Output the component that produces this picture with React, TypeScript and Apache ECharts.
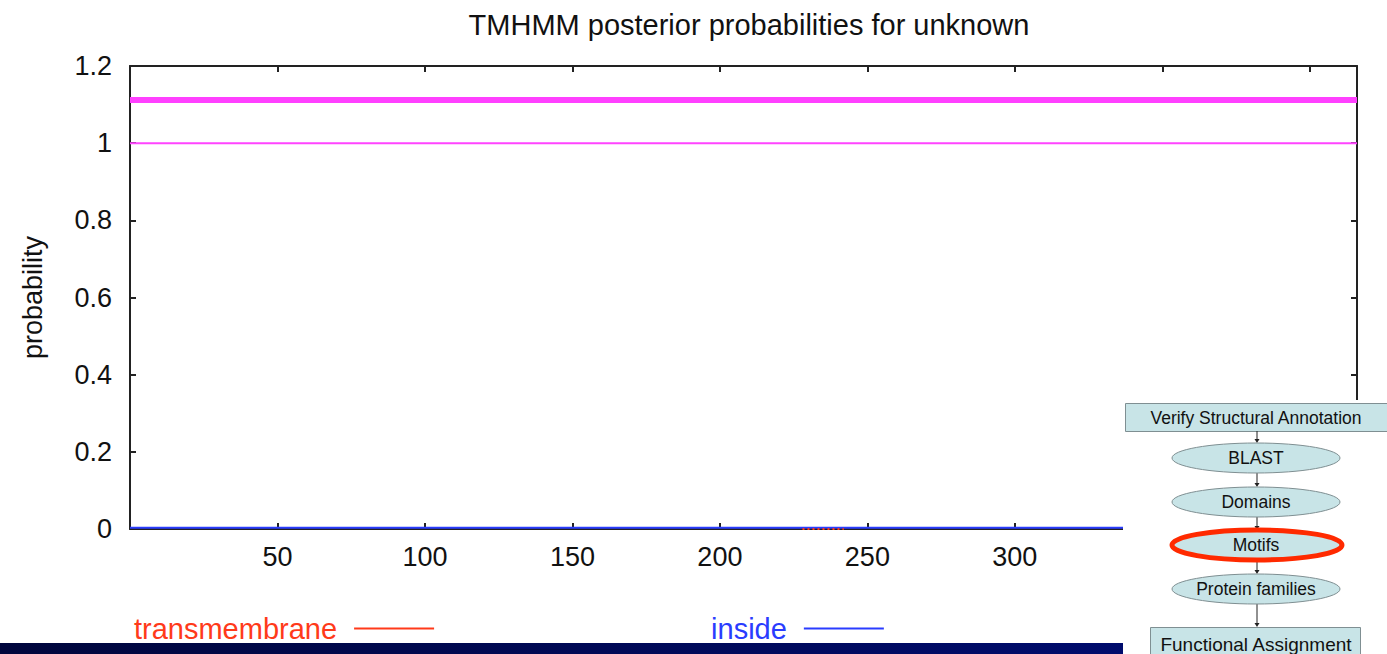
import React, { useEffect, useRef } from "react";
import * as echarts from "echarts";

const chartTitle = "TMHMM posterior probabilities for unknown";
const xTicks = [50, 100, 150, 200, 250, 300, 350, 400];
const yTicks = [0, 0.2, 0.4, 0.6, 0.8, 1, 1.2];
const residuePositions = [0, 50, 100, 150, 200, 228, 242, 250, 300, 350, 416];
const insideProb = [0.003, 0.003, 0.003, 0.003, 0.003, 0.003, 0.003, 0.003, 0.003, 0.003, 0.003];
const outsideProb = [1, 1, 1, 1, 1, 1, 1, 1, 1, 1, 1];
const tmPositions = [228, 231, 234, 237, 240, 242];
const tmProb = [0, 0, 0, 0, 0, 0];
const topologyStart = [0];
const topologyEnd = [416];
const topologyLevel = 1.112;
const flowSteps = ["BLAST", "Domains", "Motifs", "Protein families"];

const FONT = "'Liberation Sans', Arial, Helvetica, sans-serif";

export default function App() {
  const ref = useRef<HTMLDivElement>(null);
  useEffect(() => {
    if (!ref.current) return;
    const chart = echarts.init(ref.current, null, { renderer: "svg" });
    const pair = (xs: number[], ys: number[]) => xs.map((x, i) => [x, ys[i]]);
    const topo: number[][] = [];
    topologyStart.forEach((s, i) => {
      topo.push([s, topologyLevel], [topologyEnd[i], topologyLevel]);
    });

    const ellipseY = [458, 502, 545, 589];
    const graphics: any[] = [
      {
        type: "rect",
        shape: { x: 0, y: 643, width: 1387, height: 11 },
        style: {
          fill: new echarts.graphic.LinearGradient(0, 0, 1, 0, [
            { offset: 0, color: "#00063c" },
            { offset: 1, color: "#000d78" },
          ]),
        },
        z: 50,
      },
      {
        type: "rect",
        shape: { x: 1123, y: 400, width: 264, height: 254 },
        style: { fill: "#ffffff" },
        z: 60,
      },
      {
        type: "rect",
        shape: { x: 1125.5, y: 403.5, width: 262, height: 28 },
        style: { fill: "#c8e4e7", stroke: "#7f8f92", lineWidth: 1 },
        z: 61,
      },
      {
        type: "text",
        x: 1256,
        y: 418,
        style: {
          text: "Verify Structural Annotation",
          fill: "#111",
          font: `17.5px ${FONT}`,
          align: "center",
          verticalAlign: "middle",
        },
        z: 62,
      },
      {
        type: "rect",
        shape: { x: 1150.5, y: 627.5, width: 210, height: 40 },
        style: { fill: "#c8e4e7", stroke: "#7f8f92", lineWidth: 1 },
        z: 61,
      },
      {
        type: "text",
        x: 1256,
        y: 644,
        style: {
          text: "Functional Assignment",
          fill: "#111",
          font: `19px ${FONT}`,
          align: "center",
          verticalAlign: "middle",
        },
        z: 62,
      },
    ];
    const arrowSegs = [
      [431, 443],
      [473, 487],
      [517, 530],
      [560, 574],
      [604, 627],
    ];
    arrowSegs.forEach(([a, b]) => {
      graphics.push({
        type: "line",
        shape: { x1: 1257, y1: a, x2: 1257, y2: b - 2 },
        style: { stroke: "#222", lineWidth: 1 },
        z: 61,
      });
      graphics.push({
        type: "polygon",
        shape: { points: [[1254.5, b - 4], [1259.5, b - 4], [1257, b]] },
        style: { fill: "#222" },
        z: 61,
      });
    });
    flowSteps.forEach((label, i) => {
      const isMotif = label === "Motifs";
      graphics.push({
        type: "ellipse",
        shape: { cx: 1256, cy: ellipseY[i], rx: 84, ry: 15 },
        style: { fill: "#c8e4e7", stroke: "#7f8f92", lineWidth: 1 },
        z: 61,
      });
      if (isMotif) {
        graphics.push({
          type: "ellipse",
          shape: { cx: 1257, cy: ellipseY[i], rx: 85, ry: 15 },
          style: { fill: "none", stroke: "#ff2a00", lineWidth: 5 },
          z: 63,
        });
      }
      graphics.push({
        type: "text",
        x: 1256,
        y: ellipseY[i],
        style: {
          text: label,
          fill: "#111",
          font: `17.5px ${FONT}`,
          align: "center",
          verticalAlign: "middle",
        },
        z: 62,
      });
    });

    const axisLine = { show: true, onZero: false, lineStyle: { color: "#222", width: 2 } };
    const tick = { show: true, inside: true, length: 6, lineStyle: { color: "#222", width: 2 } };
    const labelStyle = { color: "#111", fontSize: 27, fontFamily: FONT };

    chart.setOption({
      animation: false,
      backgroundColor: "#ffffff",
      title: {
        text: chartTitle,
        left: 744,
        textAlign: "center",
        top: 5,
        textStyle: { color: "#111", fontSize: 29, fontWeight: "normal", fontFamily: FONT },
      },
      grid: { left: 130, right: 30, top: 66, bottom: 125, containLabel: false },
      legend: {
        data: [
          { name: "transmembrane", textStyle: { color: "#ff3a1a" } },
          { name: "inside", textStyle: { color: "#2a3cff" } },
        ],
        left: 129,
        top: 609,
        align: "right",
        itemGap: 277,
        itemWidth: 80,
        itemHeight: 2,
        icon: "rect",
        textStyle: { fontSize: 29, fontFamily: FONT, padding: [0, 12, 0, 0] },
      },
      xAxis: [
        {
          type: "value",
          min: 0,
          max: 416,
          interval: 50,
          position: "bottom",
          axisLine,
          axisTick: tick,
          splitLine: { show: false },
          axisLabel: {
            ...labelStyle,
            margin: 14,
            formatter: (v: number) => (xTicks.includes(v) ? String(v) : ""),
            showMaxLabel: false,
          },
        },
        {
          type: "value",
          min: 0,
          max: 416,
          interval: 50,
          position: "top",
          axisLine,
          axisTick: tick,
          splitLine: { show: false },
          axisLabel: { show: false },
        },
      ],
      yAxis: [
        {
          type: "value",
          min: 0,
          max: 1.2,
          interval: 0.2,
          position: "left",
          name: "probability",
          nameLocation: "middle",
          nameGap: 84,
          nameRotate: 90,
          nameTextStyle: { color: "#111", fontSize: 27, fontFamily: FONT },
          axisLine,
          axisTick: tick,
          splitLine: { show: false },
          axisLabel: {
            ...labelStyle,
            margin: 18,
            formatter: (v: number) => {
              const t = yTicks.find((y) => Math.abs(y - v) < 1e-9);
              return t === undefined ? "" : String(Math.round(t * 10) / 10);
            },
          },
        },
        {
          type: "value",
          min: 0,
          max: 1.2,
          interval: 0.2,
          position: "right",
          axisLine,
          axisTick: tick,
          splitLine: { show: false },
          axisLabel: { show: false },
        },
      ],
      series: [
        {
          name: "outside",
          type: "line",
          data: pair(residuePositions, outsideProb),
          showSymbol: false,
          lineStyle: { color: "#ff44ff", width: 2 },
          itemStyle: { color: "#ff44ff" },
          z: 3,
        },
        {
          name: "topology",
          type: "line",
          data: topo,
          showSymbol: false,
          lineStyle: { color: "#ff40ff", width: 6 },
          itemStyle: { color: "#ff40ff" },
          z: 3,
        },
        {
          name: "inside",
          type: "line",
          data: pair(residuePositions, insideProb),
          showSymbol: false,
          lineStyle: { color: "#2a3cff", width: 2 },
          itemStyle: { color: "#2a3cff" },
          z: 3,
        },
        {
          name: "transmembrane",
          type: "line",
          data: pair(tmPositions, tmProb),
          showSymbol: false,
          lineStyle: { color: "#ff3a1a", width: 2, type: [2, 3] },
          itemStyle: { color: "#ff3a1a" },
          z: 4,
        },
      ],
      graphic: graphics,
    });
    return () => chart.dispose();
  }, []);
  return <div ref={ref} style={{ width: 1387, height: 654, position: "absolute", left: 0, top: 0 }} />;
}
